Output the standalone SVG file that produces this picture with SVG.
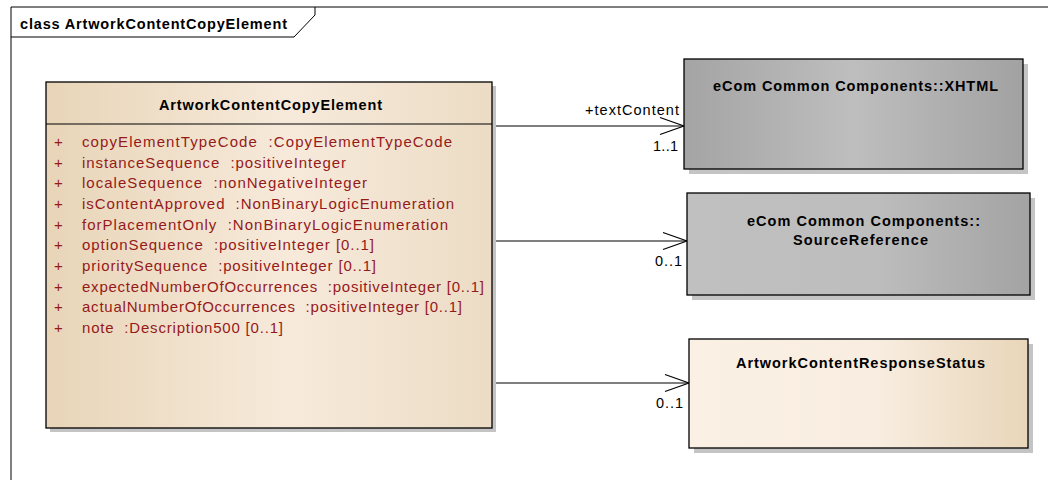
<svg xmlns="http://www.w3.org/2000/svg" width="1048" height="480" viewBox="0 0 1048 480">
<style>
text{font-family:"Liberation Sans",Arial,sans-serif}
.b{font-weight:bold;font-size:14.5px;fill:#000}
.attr{font-size:15px;fill:#951A1A}
.lbl{font-size:14.5px;fill:#000}
.box{stroke:#000;stroke-width:1.3}
.sh{fill:#C4C4C4}
.con{stroke:#000;stroke-width:1.2;fill:none}
</style>
<defs>
<linearGradient id="gMain" x1="0" y1="0" x2="1" y2="0">
<stop offset="0" stop-color="#E8D5B8"/>
<stop offset="0.55" stop-color="#F7EADB"/>
<stop offset="1" stop-color="#ECDCC5"/>
</linearGradient>
<linearGradient id="gResp" x1="0" y1="0" x2="1" y2="0">
<stop offset="0" stop-color="#FAF0E3"/>
<stop offset="0.55" stop-color="#F8EDE0"/>
<stop offset="1" stop-color="#E9D6BA"/>
</linearGradient>
<linearGradient id="gX" x1="0" y1="0" x2="1" y2="0">
<stop offset="0" stop-color="#A4A4A4"/>
<stop offset="0.5" stop-color="#BEBEBE"/>
<stop offset="1" stop-color="#A2A2A2"/>
</linearGradient>
<linearGradient id="gS" x1="0" y1="0" x2="1" y2="0">
<stop offset="0" stop-color="#C0C0C0"/>
<stop offset="0.55" stop-color="#BDBDBD"/>
<stop offset="1" stop-color="#A3A3A3"/>
</linearGradient>
<marker id="open" markerWidth="26" markerHeight="20" refX="25" refY="10" orient="auto" markerUnits="userSpaceOnUse">
<path d="M1,1.5 L25,10 L1,18.5" fill="none" stroke="#000" stroke-width="1.2"/>
</marker>
</defs>
<rect width="1048" height="480" fill="#fff"/>
<g id="frame">
<path d="M11,480 L11,7 L1048,7" fill="none" stroke="#000" stroke-width="1"/>
<path d="M11,37 L294,37 L315,15 L315,7" fill="none" stroke="#000" stroke-width="1"/>
<text class="b" x="20" y="29" textLength="267">class ArtworkContentCopyElement</text>
</g>
<g id="connectors">
<line class="con" x1="492" y1="126" x2="684" y2="126" marker-end="url(#open)"/>
<text class="lbl" x="585" y="115" textLength="94">+textContent</text>
<text class="lbl" x="653" y="151" textLength="25">1..1</text>
<line class="con" x1="492" y1="241" x2="687" y2="241" marker-end="url(#open)"/>
<text class="lbl" x="655" y="266" textLength="27">0..1</text>
<line class="con" x1="492" y1="383" x2="689" y2="383" marker-end="url(#open)"/>
<text class="lbl" x="656" y="408" textLength="27">0..1</text>
</g>
<g id="ArtworkContentCopyElement">
<rect class="sh" x="50" y="86" width="446" height="346"/>
<rect class="box" x="46" y="82" width="446" height="346" fill="url(#gMain)"/>
<line x1="46" y1="124" x2="492" y2="124" stroke="#000" stroke-width="1.2"/>
<text class="b" x="159" y="110" textLength="223">ArtworkContentCopyElement</text>
<g class="attr">
<text class="attr" x="54" y="147">+</text><text class="attr" x="82" y="147" textLength="370">copyElementTypeCode&#160; :CopyElementTypeCode</text>
<text class="attr" x="54" y="168">+</text><text class="attr" x="82" y="168" textLength="264">instanceSequence&#160; :positiveInteger</text>
<text class="attr" x="54" y="188">+</text><text class="attr" x="82" y="188" textLength="285">localeSequence&#160; :nonNegativeInteger</text>
<text class="attr" x="54" y="209">+</text><text class="attr" x="82" y="209" textLength="372">isContentApproved&#160; :NonBinaryLogicEnumeration</text>
<text class="attr" x="54" y="230">+</text><text class="attr" x="82" y="230" textLength="366">forPlacementOnly&#160; :NonBinaryLogicEnumeration</text>
<text class="attr" x="54" y="250">+</text><text class="attr" x="82" y="250" textLength="292">optionSequence&#160; :positiveInteger [0..1]</text>
<text class="attr" x="54" y="271">+</text><text class="attr" x="82" y="271" textLength="294">prioritySequence&#160; :positiveInteger [0..1]</text>
<text class="attr" x="54" y="292">+</text><text class="attr" x="82" y="292" textLength="402">expectedNumberOfOccurrences&#160; :positiveInteger [0..1]</text>
<text class="attr" x="54" y="312">+</text><text class="attr" x="82" y="312" textLength="380">actualNumberOfOccurrences&#160; :positiveInteger [0..1]</text>
<text class="attr" x="54" y="333">+</text><text class="attr" x="82" y="333" textLength="201">note&#160; :Description500 [0..1]</text>
</g>
</g>
<g id="XHTML">
<rect class="sh" x="689" y="64" width="339" height="110"/>
<rect class="box" x="684" y="59" width="339" height="110" fill="url(#gX)"/>
<text class="b" x="713" y="91" textLength="285">eCom Common Components::XHTML</text>
</g>
<g id="SourceReference">
<rect class="sh" x="692" y="198" width="343" height="102"/>
<rect class="box" x="687" y="193" width="343" height="102" fill="url(#gS)"/>
<text class="b" x="747" y="226" textLength="233">eCom Common Components::</text>
<text class="b" x="793" y="245" textLength="135">SourceReference</text>
</g>
<g id="ArtworkContentResponseStatus">
<rect class="sh" x="694" y="344" width="339" height="109"/>
<rect class="box" x="689" y="339" width="339" height="109" fill="url(#gResp)"/>
<text class="b" x="736" y="368" textLength="249">ArtworkContentResponseStatus</text>
</g>
</svg>
